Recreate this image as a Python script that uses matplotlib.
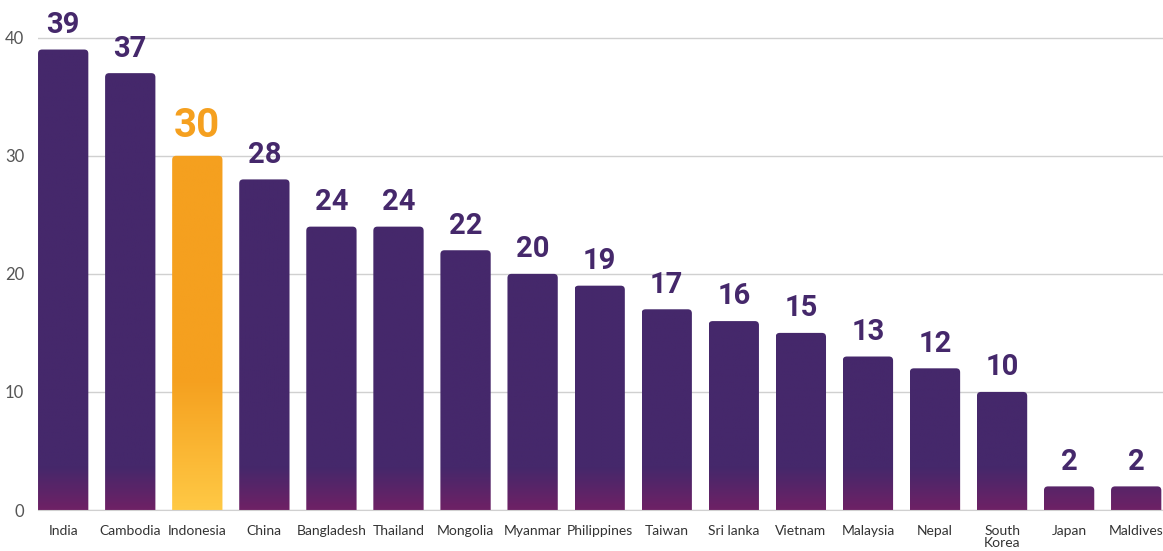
import numpy as np
import matplotlib.pyplot as plt
from matplotlib.patches import FancyBboxPatch
from matplotlib.colors import to_rgb

countries = ['India', 'Cambodia', 'Indonesia', 'China', 'Bangladesh', 'Thailand',
             'Mongolia', 'Myanmar', 'Philippines', 'Taiwan', 'Sri lanka', 'Vietnam',
             'Malaysia', 'Nepal', 'South\nKorea', 'Japan', 'Maldives']
values = [39, 37, 30, 28, 24, 24, 22, 20, 19, 17, 16, 15, 13, 12, 10, 2, 2]
highlight = 'Indonesia'

purple_top = to_rgb('#45286b')
purple_bot = to_rgb('#6e2165')
orange_top = to_rgb('#f5a01f')
orange_bot = to_rgb('#ffc945')

fig = plt.figure(figsize=(11.63, 5.51), dpi=100)
ax = fig.add_axes([0.0327, 0.0744, 0.9673, 0.9])

width = 0.75
rx = 0.06
ry = 0.34


def bar_colors(h, top, bot, fade):
    ys = np.linspace(0, h, 300)
    t = np.clip(ys / fade, 0, 1)[:, None]
    cols = np.array(bot) * (1 - t) + np.array(top) * t
    return cols[::-1][:, None, :]


for i, (c, v) in enumerate(zip(countries, values)):
    x0 = i - width / 2
    if c == highlight:
        img = bar_colors(v, orange_top, orange_bot, 11)
        lab_col, lab_size = '#f5a01f', 29
    else:
        img = bar_colors(v, purple_top, purple_bot, 3.6)
        lab_col, lab_size = '#45286b', 21
    # rounded-top bar, bottom corners pushed below the axis
    patch = FancyBboxPatch((x0, -2), width, v + 2,
                           boxstyle=f'round,pad=0,rounding_size={rx}',
                           mutation_aspect=ry / rx, facecolor='none',
                           edgecolor='none', transform=ax.transData)
    ax.add_patch(patch)
    im = ax.imshow(img, extent=(x0, x0 + width, 0, v), aspect='auto',
                   interpolation='bilinear', zorder=2)
    im.set_clip_path(patch)
    ax.text(i, v + 0.9, str(v), ha='center', va='bottom', color=lab_col,
            fontsize=lab_size, fontweight='bold', family='Roboto')

ax.set_xlim(-0.375, 16.4)
ax.set_ylim(0, 42)
ax.set_yticks([0, 10, 20, 30, 40])
ax.set_xticks(range(len(countries)))
ax.set_xticklabels(countries, fontsize=10, color='#333333', family='Lato',
                   linespacing=1.0)
ax.tick_params(axis='y', labelsize=12, colors='#555555', length=0, pad=10)
ax.tick_params(axis='x', length=0, pad=11)
for lab in ax.get_yticklabels():
    lab.set_family('Lato')
ax.grid(axis='y', color='#d0d0d0', linewidth=1, zorder=0)
ax.set_axisbelow(True)
for s in ['top', 'right', 'left']:
    ax.spines[s].set_visible(False)
ax.spines['bottom'].set_color('#d0d0d0')

fig.savefig('out.png', dpi=100)
